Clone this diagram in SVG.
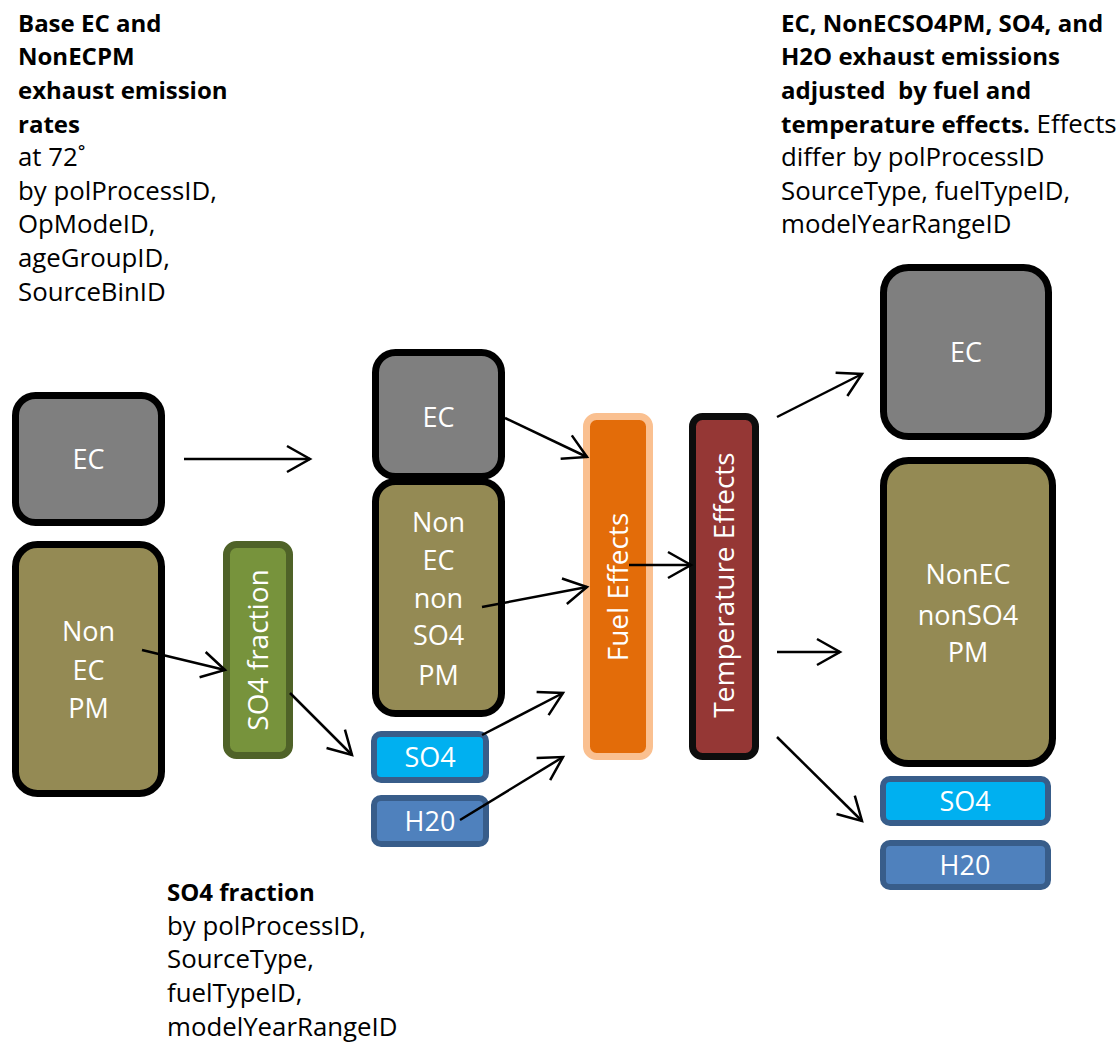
<svg xmlns="http://www.w3.org/2000/svg" width="1119" height="1043" viewBox="0 0 1119 1043">
<style>
.t{font-family:"Open Sans","Liberation Sans",sans-serif;font-size:25.8px;fill:#000}
.b{font-weight:bold;font-size:24px}
.n{font-family:"Open Sans","Liberation Sans",sans-serif;font-size:27px;fill:#fff;text-anchor:middle}
.r{font-size:28px}
.blk{stroke:#000;stroke-width:7}
.gray{fill:#7F7F7F}
.olive{fill:#948A54}
.so4{fill:#00B0F0;stroke:#385D8A;stroke-width:6}
.h2o{fill:#4F81BD;stroke:#385D8A;stroke-width:6}
.c{stroke:#000;stroke-width:2.5;fill:none;marker-end:url(#ah)}
</style>
<defs>
<marker id="ah" markerUnits="userSpaceOnUse" viewBox="-26 -15 28 30" markerWidth="28" markerHeight="30" refX="0" refY="0" orient="auto" overflow="visible">
<path d="M-23,-13 L0,0 L-23,13" fill="none" stroke="#000" stroke-width="2.5"/>
</marker>
</defs>
<rect width="1119" height="1043" fill="#fff"/>

<g id="text-base">
<text class="t b" x="18" y="32">Base EC and</text>
<text class="t b" x="18" y="65">NonECPM</text>
<text class="t b" x="18" y="99">exhaust emission</text>
<text class="t b" x="18" y="133">rates</text>
<text class="t" x="18" y="166">at 72˚</text>
<text class="t" x="18" y="200">by polProcessID,</text>
<text class="t" x="18" y="233">OpModeID,</text>
<text class="t" x="18" y="267">ageGroupID,</text>
<text class="t" x="18" y="301">SourceBinID</text>
</g>

<g id="text-adjusted">
<text class="t b" x="781" y="32">EC, NonECSO4PM, SO4, and</text>
<text class="t b" x="781" y="65">H2O exhaust emissions</text>
<text class="t b" x="781" y="99" xml:space="preserve">adjusted  by fuel and</text>
<text class="t" x="781" y="133"><tspan class="b">temperature effects.</tspan> Effects</text>
<text class="t" x="781" y="166">differ by polProcessID</text>
<text class="t" x="781" y="200">SourceType, fuelTypeID,</text>
<text class="t" x="781" y="233">modelYearRangeID</text>
</g>

<g id="text-so4fraction">
<text class="t b" x="167" y="901">SO4 fraction</text>
<text class="t" x="167" y="935">by polProcessID,</text>
<text class="t" x="167" y="968">SourceType,</text>
<text class="t" x="167" y="1002">fuelTypeID,</text>
<text class="t" x="167" y="1036">modelYearRangeID</text>
</g>

<g id="base-ec">
<rect class="gray blk" x="15.5" y="395.5" width="146" height="127" rx="20"/>
<text class="n" x="88.5" y="469">EC</text>
</g>
<g id="base-nonecpm">
<rect class="olive blk" x="15.5" y="544.5" width="146" height="249" rx="22"/>
<text class="n" x="88.5" y="641">Non</text>
<text class="n" x="88.5" y="680">EC</text>
<text class="n" x="88.5" y="718">PM</text>
</g>
<g id="so4-fraction">
<rect x="226.5" y="544.5" width="63" height="211" rx="10" fill="#77933C" stroke="#4F6228" stroke-width="7"/>
<text class="n r" transform="translate(268,650) rotate(-90)" x="0" y="0">SO4 fraction</text>
</g>

<g id="mid-ec">
<rect class="gray blk" x="375.5" y="352.5" width="126" height="124" rx="20"/>
<text class="n" x="438.5" y="427">EC</text>
</g>
<g id="mid-nonec">
<rect class="olive blk" x="375.5" y="481.5" width="126" height="232" rx="20"/>
<text class="n" x="438.5" y="532">Non</text>
<text class="n" x="438.5" y="570">EC</text>
<text class="n" x="438.5" y="608">non</text>
<text class="n" x="438.5" y="645">SO4</text>
<text class="n" x="438.5" y="685">PM</text>
</g>
<g id="mid-so4">
<rect class="so4" x="374" y="734" width="112" height="46" rx="7"/>
<text class="n" x="430" y="767">SO4</text>
</g>
<g id="mid-h2o">
<rect class="h2o" x="374" y="798" width="112" height="46" rx="7"/>
<text class="n" x="430" y="831">H20</text>
</g>

<g id="fuel-effects">
<rect x="586.5" y="416.5" width="63" height="340" rx="10" fill="#E36C09" stroke="#FAC090" stroke-width="7"/>
<text class="n r" transform="translate(628,587) rotate(-90)" x="0" y="0">Fuel Effects</text>
</g>
<g id="temperature-effects">
<rect x="692.5" y="416.5" width="63" height="340" rx="10" fill="#953735" stroke="#0D0D0D" stroke-width="7"/>
<text class="n r" transform="translate(734,585) rotate(-90)" x="0" y="0">Temperature Effects</text>
</g>

<g id="out-ec">
<rect class="gray blk" x="883.5" y="267.5" width="165" height="169" rx="25"/>
<text class="n" x="966" y="362">EC</text>
</g>
<g id="out-nonec">
<rect class="olive blk" x="883.5" y="460.5" width="169" height="303" rx="25"/>
<text class="n" x="968" y="584">NonEC</text>
<text class="n" x="968" y="625">nonSO4</text>
<text class="n" x="968" y="662">PM</text>
</g>
<g id="out-so4">
<rect class="so4" x="883" y="779" width="165" height="44" rx="7"/>
<text class="n" x="965" y="811">SO4</text>
</g>
<g id="out-h2o">
<rect class="h2o" x="883" y="843" width="165" height="44" rx="7"/>
<text class="n" x="965" y="875">H20</text>
</g>

<g id="connectors">
<line class="c" x1="184" y1="459" x2="310" y2="459"/>
<line class="c" x1="142" y1="650" x2="225" y2="670"/>
<line class="c" x1="290" y1="693" x2="352" y2="755"/>
<line class="c" x1="505" y1="418" x2="587" y2="457"/>
<line class="c" x1="482" y1="607" x2="587" y2="587"/>
<line class="c" x1="482" y1="735" x2="563" y2="693"/>
<line class="c" x1="460" y1="820" x2="563" y2="757"/>
<line class="c" x1="629" y1="565" x2="691" y2="565"/>
<line class="c" x1="777" y1="417" x2="862" y2="374"/>
<line class="c" x1="777" y1="652" x2="840" y2="652"/>
<line class="c" x1="777" y1="737" x2="862" y2="821"/>
</g>
</svg>
